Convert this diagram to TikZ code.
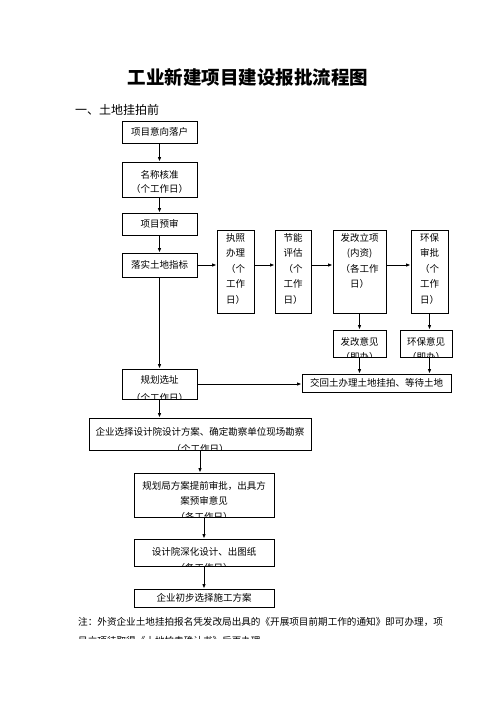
\documentclass[tikz,border=0pt]{standalone}
\usepackage{fontspec}
\setmainfont{Noto Sans CJK SC}
\usetikzlibrary{arrows.meta}
\tikzset{
  box/.style={draw, line width=0.8pt, inner sep=0pt},
  txt/.style={inner sep=0pt, font=\fontsize{9.5}{15.5}\selectfont, align=center},
  arr/.style={line width=0.9pt, -{Latex[length=4.5pt,width=3.5pt]}},
}
\begin{document}
\begin{tikzpicture}[x=1pt,y=-1pt]
\useasboundingbox[fill=white] (0,0) rectangle (496,702);
% title
\node[inner sep=0pt, font=\fontsize{18.5}{20}\selectfont\bfseries] (title) at (248,77) {工业新建项目建设报批流程图};
\node[inner sep=0pt, anchor=west, font=\fontsize{12}{14}\selectfont] (sec) at (75,110) {一、土地挂拍前};
% boxes
\node[box, minimum width=75pt, minimum height=22pt] (A) at (159.5,132) {};
\node[box, minimum width=75pt, minimum height=35pt] (B) at (159.5,179.5) {};
\node[box, minimum width=75pt, minimum height=22pt] (C) at (159.5,224) {};
\node[box, minimum width=75pt, minimum height=24pt] (D) at (159.5,265) {};
\node[box, minimum width=37pt, minimum height=83pt] (E) at (235.5,271.5) {};
\node[box, minimum width=36pt, minimum height=83pt] (F) at (293,271.5) {};
\node[box, minimum width=53pt, minimum height=83pt] (G) at (359.5,271.5) {};
\node[box, minimum width=37pt, minimum height=83pt] (H) at (429.5,271.5) {};
\node[box, minimum width=53pt, minimum height=27pt] (I) at (359.5,343.5) {};
\node[box, minimum width=52pt, minimum height=27pt] (J) at (426,343.5) {};
\node[box, minimum width=149pt, minimum height=18pt] (K) at (376.5,383) {};
\node[box, minimum width=75pt, minimum height=30pt] (L) at (159.5,384) {};
\node[box, minimum width=222pt, minimum height=32pt] (M) at (200,434) {};
\node[box, minimum width=140pt, minimum height=44pt] (N) at (204,495) {};
\node[box, minimum width=140pt, minimum height=27pt] (O) at (204,552.5) {};
\node[box, minimum width=140pt, minimum height=18pt] (P) at (204,598) {};
% texts
\node[txt] (tA) at (159.5,132) {项目意向落户};
\node[txt] (tB1) at (159.5,175) {名称核准};
\node[txt] (tB2) at (159.5,189) {（个工作日）};
\node[txt] (tC) at (159.5,224) {项目预审};
\node[txt] (tD) at (159.5,265) {落实土地指标};
\node[txt, anchor=north] (tE) at (235.5,233) {执照\\办理\\（个\\工作\\日）};
\node[txt, anchor=north] (tF) at (293,233) {节能\\评估\\（个\\工作\\日）};
\node[txt, anchor=north] (tG) at (359.5,233) {发改立项\\(内资)\\（各工作\\日）};
\node[txt, anchor=north] (tH) at (429.5,233) {环保\\审批\\（个\\工作\\日）};
\node[txt] (tK) at (376.5,383) {交回土办理土地挂拍、等待土地};
\node[txt] (tP) at (204,598) {企业初步选择施工方案};
\begin{scope}
\clip (I.south west) rectangle (I.north east);
\node[txt] (tI1) at (359.5,342) {发改意见};
\node[txt] (tI2) at (359.5,356.5) {（即办）};
\end{scope}
\begin{scope}
\clip (J.south west) rectangle (J.north east);
\node[txt] (tJ1) at (426,342) {环保意见};
\node[txt] (tJ2) at (426,356.5) {（即办）};
\end{scope}
\begin{scope}
\clip (L.south west) rectangle (L.north east);
\node[txt] (tL1) at (159.5,380) {规划选址};
\node[txt] (tL2) at (159.5,398) {（个工作日）};
\end{scope}
\begin{scope}
\clip (M.south west) rectangle (M.north east);
\node[txt] (tM1) at (200,432) {企业选择设计院设计方案、确定勘察单位现场勘察};
\node[txt] (tM2) at (200,448.5) {（个工作日）};
\end{scope}
\begin{scope}
\clip (N.south west) rectangle (N.north east);
\node[txt] (tN1) at (204,486) {规划局方案提前审批，出具方};
\node[txt] (tN2) at (204,500.5) {案预审意见};
\node[txt] (tN3) at (204,516.5) {（各工作日）};
\end{scope}
\begin{scope}
\clip (O.south west) rectangle (O.north east);
\node[txt] (tO1) at (204,552) {设计院深化设计、出图纸};
\node[txt] (tO2) at (204,567.5) {（各工作日）};
\end{scope}
% footnote
\node[txt, anchor=west, font=\fontsize{9.6}{11}\selectfont] (fn1) at (78,622) {注：外资企业土地挂拍报名凭发改局出具的《开展项目前期工作的通知》即可办理，项};
\begin{scope}
\clip (0,600) rectangle (496,638.5);
\node[txt, anchor=west, font=\fontsize{9.6}{11}\selectfont] (fn2) at (78,641) {目立项待取得《土地拍卖确认书》后再办理};
\end{scope}
% connectors
\draw[arr] (A) -- (B);
\draw[arr] (B) -- (C);
\draw[arr] (C) -- (D);
\draw[arr] (D.south) -- (L.north);
\draw[arr] (D.east) -- (D.east -| E.west);
\draw[arr] (D.east -| E.east) -- (D.east -| F.west);
\draw[arr] (D.east -| F.east) -- (D.east -| G.west);
\draw[arr] (D.east -| G.east) -- (D.east -| H.west);
\draw[arr] (G.south) -- (I.north);
\draw[arr] (H.south) -- (H.south |- J.north);
\draw[arr] (I.south) -- (I.south |- K.north);
\draw[arr] (H.south |- J.south) -- (H.south |- K.north);
\draw[arr] (L.east) -- (L.east -| K.west);
\draw[arr] (L.south) -- (L.south |- M.north);
\draw[arr] (M.south) -- (M.south |- N.north);
\draw[arr] (N.south) -- (N.south |- O.north);
\draw[arr] (O.south) -- (O.south |- P.north);
\end{tikzpicture}
\end{document}
